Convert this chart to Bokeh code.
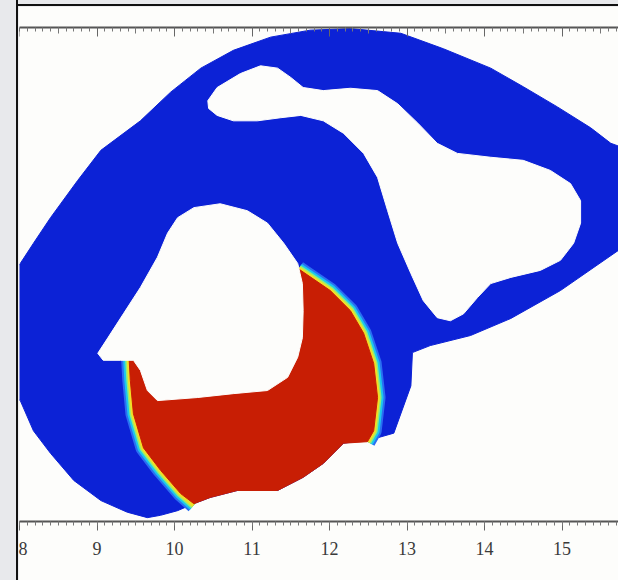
import numpy as np
from bokeh.plotting import figure
from bokeh.models import Range1d, LinearAxis, SingleIntervalTicker, FixedTicker, Div
from bokeh.layouts import row, column
from bokeh.embed import file_html
from bokeh.resources import INLINE

# ---------------- data (axis units) ----------------
x_ticks = [8, 9, 10, 11, 12, 13, 14, 15]

# outer boundary of the tissue (blue, resting)
tissue_x = [9.65, 9.82, 10.04, 10.25, 10.46, 10.81, 11.33, 11.66, 11.92, 12.18,
            12.49, 12.62, 12.83, 13.05, 13.07, 13.30, 13.82, 14.34, 14.98, 15.73,
            15.88, 15.88, 15.63, 15.37, 14.94, 14.50, 14.08, 13.47, 12.92, 12.27,
            11.75, 11.24, 10.76, 10.34, 9.95, 9.56, 9.05, 8.75, 8.40, 8.18,
            8.01, 7.88, 7.88, 8.01, 8.18, 8.40, 8.70, 9.05, 9.39]
tissue_y = [0.05, 0.08, 0.14, 0.23, 0.31, 0.40, 0.40, 0.57, 0.75, 1.01,
            1.05, 1.08, 1.14, 1.75, 2.18, 2.27, 2.40, 2.62, 2.98, 3.50,
            3.56, 4.79, 4.88, 5.08, 5.35, 5.61, 5.85, 6.10, 6.30, 6.36,
            6.34, 6.25, 6.08, 5.85, 5.54, 5.17, 4.79, 4.40, 3.92, 3.59,
            3.33, 3.17, 1.63, 1.56, 1.17, 0.88, 0.53, 0.27, 0.12]

# upper (right) obstacle
hole1_x = [10.43, 10.55, 10.85, 11.11, 11.33, 11.50, 11.66, 11.92, 12.27, 12.62,
           12.88, 13.14, 13.39, 13.65, 14.08, 14.50, 14.85, 15.11, 15.24, 15.24,
           15.15, 14.98, 14.72, 14.34, 14.08, 13.91, 13.73, 13.56, 13.39, 13.21,
           13.05, 12.88, 12.75, 12.62, 12.44, 12.18, 11.92, 11.63, 11.37, 11.07,
           10.76, 10.55, 10.44]
hole1_y = [5.43, 5.60, 5.78, 5.88, 5.85, 5.73, 5.60, 5.56, 5.59, 5.56,
           5.39, 5.14, 4.88, 4.75, 4.70, 4.66, 4.53, 4.36, 4.14, 3.85,
           3.59, 3.37, 3.24, 3.15, 3.07, 2.89, 2.68, 2.59, 2.63, 2.85,
           3.20, 3.59, 4.01, 4.44, 4.75, 5.01, 5.17, 5.24, 5.21, 5.17,
           5.17, 5.24, 5.33]

# central obstacle
hole2_x = [9.01, 9.14, 9.34, 9.56, 9.78, 9.91, 10.04, 10.25, 10.59, 10.94,
           11.20, 11.41, 11.59, 11.65, 11.66, 11.65, 11.59, 11.46, 11.20, 10.76,
           10.30, 9.78, 9.65, 9.56, 9.47, 9.30, 9.08]
hole2_y = [2.17, 2.37, 2.68, 3.02, 3.41, 3.72, 3.92, 4.05, 4.10, 4.01,
           3.85, 3.59, 3.33, 3.07, 2.72, 2.37, 2.12, 1.86, 1.69, 1.65,
           1.60, 1.56, 1.69, 1.95, 2.08, 2.08, 2.08]

# excitation wave fronts
front_left_x = [9.41, 9.43, 9.47, 9.60, 9.82, 10.08, 10.25]
front_left_y = [2.18, 1.82, 1.39, 0.95, 0.66, 0.36, 0.21]
front_right_x = [11.60, 12.01, 12.27, 12.44, 12.57, 12.62, 12.57, 12.49]
front_right_y = [3.26, 2.98, 2.72, 2.43, 2.04, 1.60, 1.17, 1.03]

# excited (red) region
red_x = [9.41, 9.43, 9.47, 9.60, 9.82, 10.08, 10.25, 10.46, 10.81, 11.33,
         11.66, 11.92, 12.18, 12.49, 12.57, 12.62, 12.57, 12.44, 12.27, 12.01,
         11.60, 10.34]
red_y = [2.18, 1.82, 1.39, 0.95, 0.66, 0.36, 0.23, 0.31, 0.40, 0.40,
         0.57, 0.75, 1.01, 1.03, 1.17, 1.60, 2.04, 2.43, 2.72, 2.98,
         3.26, 2.46]

BLUE = "#0c22d6"
RED = "#c81e04"
WHITE = "#fdfdfb"
PAGE = "#e8e9ec"
front_colors = ["#2a6ef2", "#1cc6ef", "#8cf07a", "#f2de26"]
front_widths = [16, 12, 8, 5]

X0, X1 = 8, 8 + 599 / 77.5
Y0, Y1 = 0, 494 / 77.5

# ---------------- figure ----------------
p = figure(width=600, height=574, output_backend="svg", toolbar_location=None,
           x_range=Range1d(X0, X1), y_range=Range1d(Y0, Y1),
           x_axis_location="below", y_axis_location=None,
           min_border_left=1, min_border_right=0, min_border_top=21,
           min_border_bottom=59)
p.grid.visible = False
p.outline_line_color = None
p.background_fill_color = WHITE
p.border_fill_color = WHITE

p.patch(tissue_x, tissue_y, fill_color=BLUE, line_color=BLUE, line_width=1)
for c, w in zip(front_colors, front_widths):
    p.line(front_left_x, front_left_y, line_color=c, line_width=w,
           line_join="round", line_cap="butt")
    p.line(front_right_x, front_right_y, line_color=c, line_width=w,
           line_join="round", line_cap="butt")
p.patch(red_x, red_y, fill_color=RED, line_color=RED, line_width=1)
p.patch(hole2_x, hole2_y, fill_color=WHITE, line_color=WHITE, line_width=1)
p.patch(hole1_x, hole1_y, fill_color=WHITE, line_color=WHITE, line_width=1)

tenths = [round(v, 1) for v in np.arange(7.9, 16.0, 0.1)]
halves = [v + 0.5 for v in range(7, 16)]
ints = list(range(7, 17))

# bottom axis with labels
ax = p.xaxis[0]
ax.ticker = FixedTicker(ticks=x_ticks, minor_ticks=tenths)
ax.axis_line_color = "#555555"
ax.axis_line_width = 2
ax.major_tick_in = 0
ax.major_tick_out = 9
ax.minor_tick_in = 0
ax.minor_tick_out = 4
ax.major_tick_line_color = "#666666"
ax.minor_tick_line_color = "#777777"
ax.major_label_text_font = "Liberation Serif"
ax.major_label_text_font_size = "18px"
ax.major_label_text_color = "#3a3a3a"
ax.major_label_standoff = 11

# half-unit ticks on the bottom, drawn over the main axis
bh = LinearAxis(ticker=FixedTicker(ticks=[], minor_ticks=halves),
                fixed_location=Y0, axis_line_color=None,
                minor_tick_in=0, minor_tick_out=6,
                minor_tick_line_color="#777777")
p.add_layout(bh, "below")

# top axis: ticks only, pointing inward
top = LinearAxis(ticker=FixedTicker(ticks=[], minor_ticks=tenths),
                 axis_line_color="#555555", axis_line_width=2,
                 minor_tick_in=4, minor_tick_out=0,
                 minor_tick_line_color="#777777")
p.add_layout(top, "above")
top_h = LinearAxis(ticker=FixedTicker(ticks=[], minor_ticks=halves),
                   fixed_location=Y1, axis_line_color=None,
                   minor_tick_in=6, minor_tick_out=0,
                   minor_tick_line_color="#777777")
p.add_layout(top_h, "above")
top_i = LinearAxis(ticker=FixedTicker(ticks=[], minor_ticks=ints),
                   fixed_location=Y1, axis_line_color=None,
                   minor_tick_in=9, minor_tick_out=0,
                   minor_tick_line_color="#666666")
p.add_layout(top_i, "above")


def block(w, h, color):
    return Div(text="", width=w, height=h, margin=0,
               styles={"background-color": color})


layout = row(block(16, 580, PAGE), block(2, 580, "#111111"),
             column(block(600, 4, PAGE), block(600, 2, "#111111"), p))

html = file_html(layout, INLINE)
html = html.replace("</head>",
                    "<style>html, body { background-color: %s; }</style></head>" % PAGE, 1)
open("out.html", "w").write(html)
